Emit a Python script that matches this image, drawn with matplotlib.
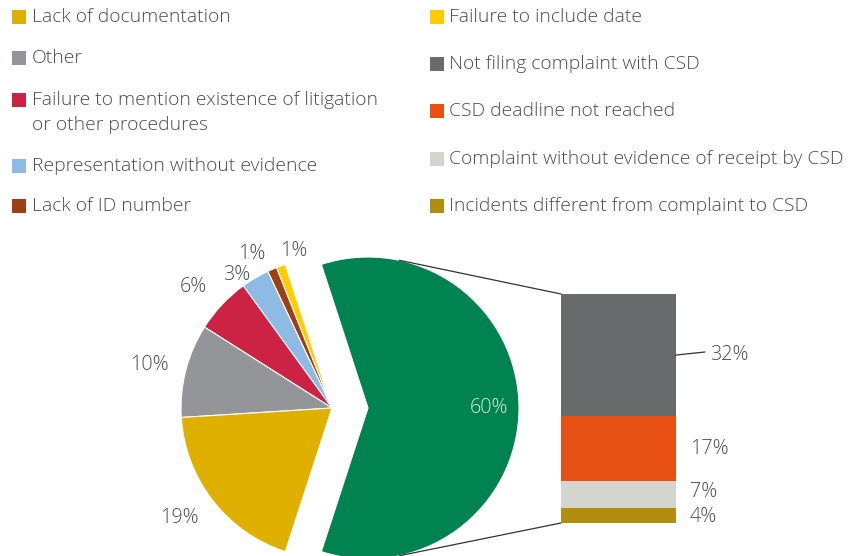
import matplotlib
matplotlib.use("Agg")
import matplotlib.pyplot as plt
from matplotlib.patches import Rectangle, ConnectionPatch
import numpy as np

plt.rcParams['font.family'] = ['Open Sans', 'DejaVu Sans']
plt.rcParams['font.weight'] = 'light'

# ---------------- data ----------------
pie_labels = ["Incidents total (CSD related)", "Failure to include date", "Lack of ID number",
              "Representation without evidence",
              "Failure to mention existence of litigation\nor other procedures",
              "Other", "Lack of documentation"]
pie_values = [60, 1, 1, 3, 6, 10, 19]
pie_colors = ["#008351", "#FFCC00", "#9E3F17", "#8DBBE3", "#CC2244", "#939598", "#E0B000"]

bar_labels = ["Incidents different from complaint to CSD",
              "Complaint without evidence of receipt by CSD",
              "CSD deadline not reached", "Not filing complaint with CSD"]
bar_values = [4, 7, 17, 32]
bar_colors = ["#B38D0E", "#D5D5D0", "#E65013", "#676B6B"]

legend_left = ["Lack of documentation", "Other",
               "Failure to mention existence of litigation\nor other procedures",
               "Representation without evidence", "Lack of ID number"]
legend_left_colors = ["#E0B000", "#939598", "#CC2244", "#8DBBE3", "#9E3F17"]
legend_right = ["Failure to include date", "Not filing complaint with CSD",
                "CSD deadline not reached", "Complaint without evidence of receipt by CSD",
                "Incidents different from complaint to CSD"]
legend_right_colors = ["#FFCC00", "#676B6B", "#E65013", "#D5D5D0", "#B38D0E"]

TXT = "#4d4d4d"
FS = 13.9
FSP = 14.2
W, H = 851, 556
fig = plt.figure(figsize=(W / 100, H / 100), dpi=100)
ax = fig.add_axes([0, 0, 1, 1])
ax.set_xlim(0, W)
ax.set_ylim(0, H)
ax.set_aspect('equal')
ax.axis('off')

# ---------------- pie ----------------
cx, cy, R = 332, H - 408, 151
explode = [36, 0, 0, 0, 0, 0, 0]
start = -pie_values[0] / 100 * 360 / 2
wedges, _ = ax.pie(pie_values, colors=pie_colors, startangle=start, counterclock=True,
                   radius=R, center=(cx, cy), explode=explode, frame=True,
                   wedgeprops=dict(edgecolor="white", linewidth=0.8))
ax.set_xlim(0, W)
ax.set_ylim(0, H)
ax.axis('off')

# pie labels
label_adj = {  # index: (angle offset deg, distance factor)
    1: (-6, 1.07), 2: (4, 1.15), 3: (5, 1.08), 4: (2, 1.22), 5: (1, 1.24), 6: (-2, 1.25)}
for i, w in enumerate(wedges):
    mid = np.deg2rad((w.theta1 + w.theta2) / 2)
    if i == 0:
        x0, y0 = w.center
        ax.text(x0 + 0.8 * R * np.cos(mid), y0 + 0.8 * R * np.sin(mid),
                f"{pie_values[i]}%", color="#d8ece0", fontsize=FSP,
                ha="center", va="center")
        continue
    da, df = label_adj[i]
    a = mid + np.deg2rad(da)
    ax.text(cx + df * R * np.cos(a), cy + df * R * np.sin(a), f"{pie_values[i]}%",
            color=TXT, fontsize=FSP, ha="center", va="center")

# ---------------- bar ----------------
bx0, bx1, btop, bbot = 561, 676, 294, 523
bax = fig.add_axes([bx0 / W, (H - bbot) / H, (bx1 - bx0) / W, (bbot - btop) / H])
bottom = 0
for v, c in zip(bar_values, bar_colors):
    bax.bar(0, v, width=1, bottom=bottom, color=c, linewidth=0)
    bottom += v
bax.set_xlim(-0.5, 0.5)
bax.set_ylim(0, sum(bar_values))
bax.axis('off')

# bar labels
bottom = 0
for v in bar_values:
    mid = bottom + v / 2
    if v == max(bar_values):
        bax.plot([0.5, 0.75], [mid, mid + 0.8], color="#333333", lw=0.9, clip_on=False)
        bax.text(0.8, mid, f"{v}%", color=TXT, fontsize=FSP, ha="left", va="center")
    else:
        yy = mid
        if v == 4:
            yy = mid - 0.3
        if v == 7:
            yy = mid + 0.6
        bax.text(0.62, yy, f"{v}%", color=TXT, fontsize=FSP, ha="left", va="center")
    bottom += v

# connection lines
gw = wedges[0]
gx, gy = gw.center
for ang, yb in [(78, sum(bar_values)), (-78, 0)]:
    p = (gx + R * np.cos(np.deg2rad(ang)), gy + R * np.sin(np.deg2rad(ang)))
    con = ConnectionPatch(xyA=p, coordsA=ax.transData, xyB=(-0.5, yb), coordsB=bax.transData,
                          color="#333333", lw=0.9)
    fig.add_artist(con)

# ---------------- legend ----------------
left_y = [17, 58, 100, 166, 206]
right_y = [17, 64, 111, 159, 206]
sq = 14
line_px = 25
for labels, colors, ys, xs, xt in [(legend_left, legend_left_colors, left_y, 12, 32),
                                   (legend_right, legend_right_colors, right_y, 430, 449)]:
    for lab, col, y in zip(labels, colors, ys):
        ax.add_patch(Rectangle((xs, H - y - sq / 2), sq, sq, color=col, lw=0))
        for k, line in enumerate(lab.split("\n")):
            ax.text(xt, H - y - k * line_px, line, color=TXT, fontsize=FS,
                    ha="left", va="center")

fig.savefig("out.png", dpi=100)
